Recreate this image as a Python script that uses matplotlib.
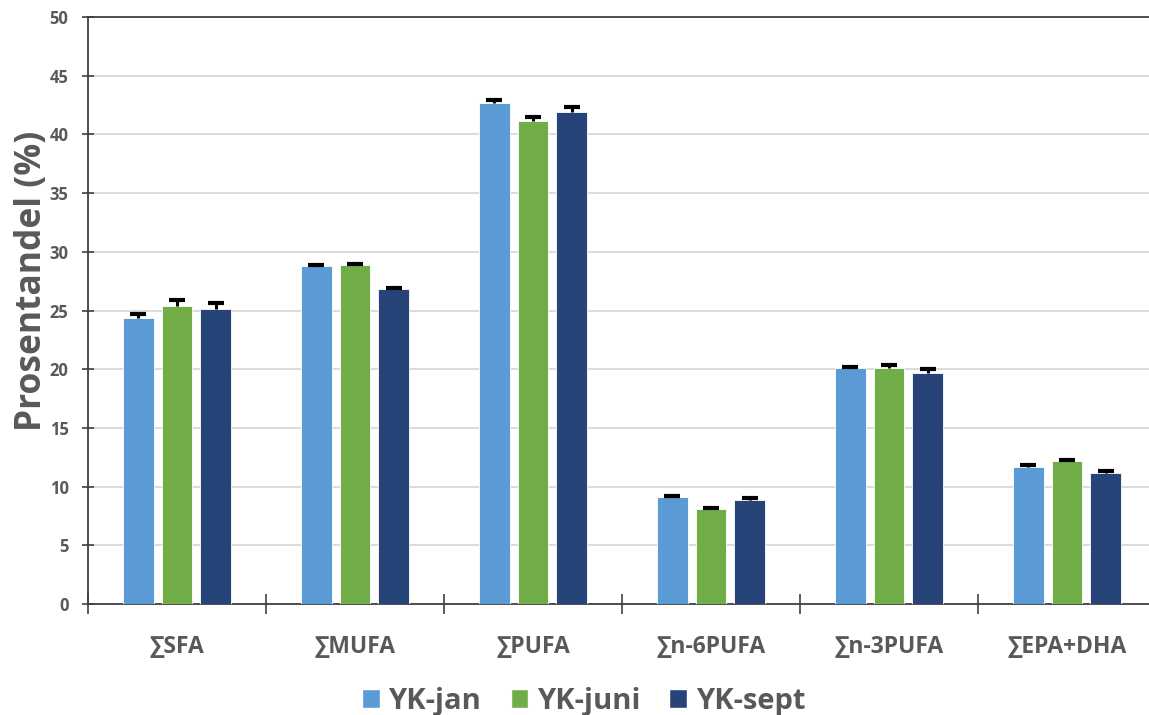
import numpy as np
import matplotlib.pyplot as plt
from matplotlib.patches import Patch

# fatty acid groups and their share of total fatty acids (%)
categories = ['∑SFA', '∑MUFA', '∑PUFA', '∑n-6PUFA', '∑n-3PUFA', '∑EPA+DHA']
series = ['YK-jan', 'YK-juni', 'YK-sept']
jan = [24.4, 28.8, 42.7, 9.1, 20.1, 11.7]
juni = [25.4, 28.9, 41.1, 8.1, 20.1, 12.2]
sept = [25.1, 26.8, 41.9, 8.9, 19.7, 11.2]
jan_err = [0.3, 0.1, 0.2, 0.1, 0.1, 0.1]
juni_err = [0.5, 0.1, 0.4, 0.1, 0.3, 0.1]
sept_err = [0.5, 0.1, 0.4, 0.1, 0.3, 0.1]

colors = ['#5B9BD5', '#70AD47', '#264478']
grey = '#595959'
font = ['Open Sans', 'DejaVu Sans']
plt.rcParams['font.family'] = font

fig = plt.figure(figsize=(11.49, 7.15), dpi=100)
ax = fig.add_axes([88 / 1149, 111 / 715, 1068 / 1149, 587 / 715])

x = np.arange(len(categories))
step = 0.219
width = 0.174
for i, (vals, errs) in enumerate([(jan, jan_err), (juni, juni_err), (sept, sept_err)]):
    pos = x + (i - 1) * step
    ax.bar(pos, vals, width, color=colors[i], edgecolor='white', linewidth=0.6, zorder=3)
    # plus-only error bars, so hide the cap at the bar top
    _, caps, _ = ax.errorbar(pos, vals, yerr=[np.zeros(len(vals)), errs], fmt='none',
                             ecolor='black', elinewidth=2.2, capsize=5.5, capthick=3, zorder=4)
    caps[0].set_visible(False)

ax.set_xlim(-0.5, len(categories) - 0.5)
ax.set_ylim(0, 50)
ax.set_yticks(np.arange(0, 51, 5))
ax.yaxis.grid(True, color='#D9D9D9', linewidth=1.3, zorder=0)
ax.set_axisbelow(True)

ax.set_xticks(x)
ax.set_xticklabels(categories)
ax.set_xticks(np.arange(-0.5, len(categories)), minor=True)
ax.tick_params(axis='x', which='major', length=0, pad=22, labelsize=16.5, labelcolor=grey)
ax.tick_params(axis='x', which='minor', length=14, width=1.2, direction='inout', color='#404040')
ax.tick_params(axis='y', length=8, width=1.2, direction='inout', color='#404040',
               labelsize=12, labelcolor=grey, pad=10)
for lbl in ax.get_xticklabels() + ax.get_yticklabels():
    lbl.set_fontweight('bold')

for side in ['left', 'bottom', 'top']:
    ax.spines[side].set_color('#404040')
    ax.spines[side].set_linewidth(1.3)
ax.spines['right'].set_visible(False)

ax.set_ylabel('Prosentandel (%)', fontsize=25.5, fontweight='bold', color=grey)
ax.yaxis.set_label_coords(-0.036, 0.55)

handles = [Patch(facecolor=c, edgecolor='white') for c in colors]
fig.legend(handles, series, loc='lower center', bbox_to_anchor=(0.508, -0.038), ncol=3,
           frameon=False, prop={'family': font, 'size': 21, 'weight': 'bold'},
           labelcolor=grey, handlelength=0.6, handleheight=0.6,
           handletextpad=0.3, columnspacing=1.0)

fig.savefig('out.png', dpi=100)
